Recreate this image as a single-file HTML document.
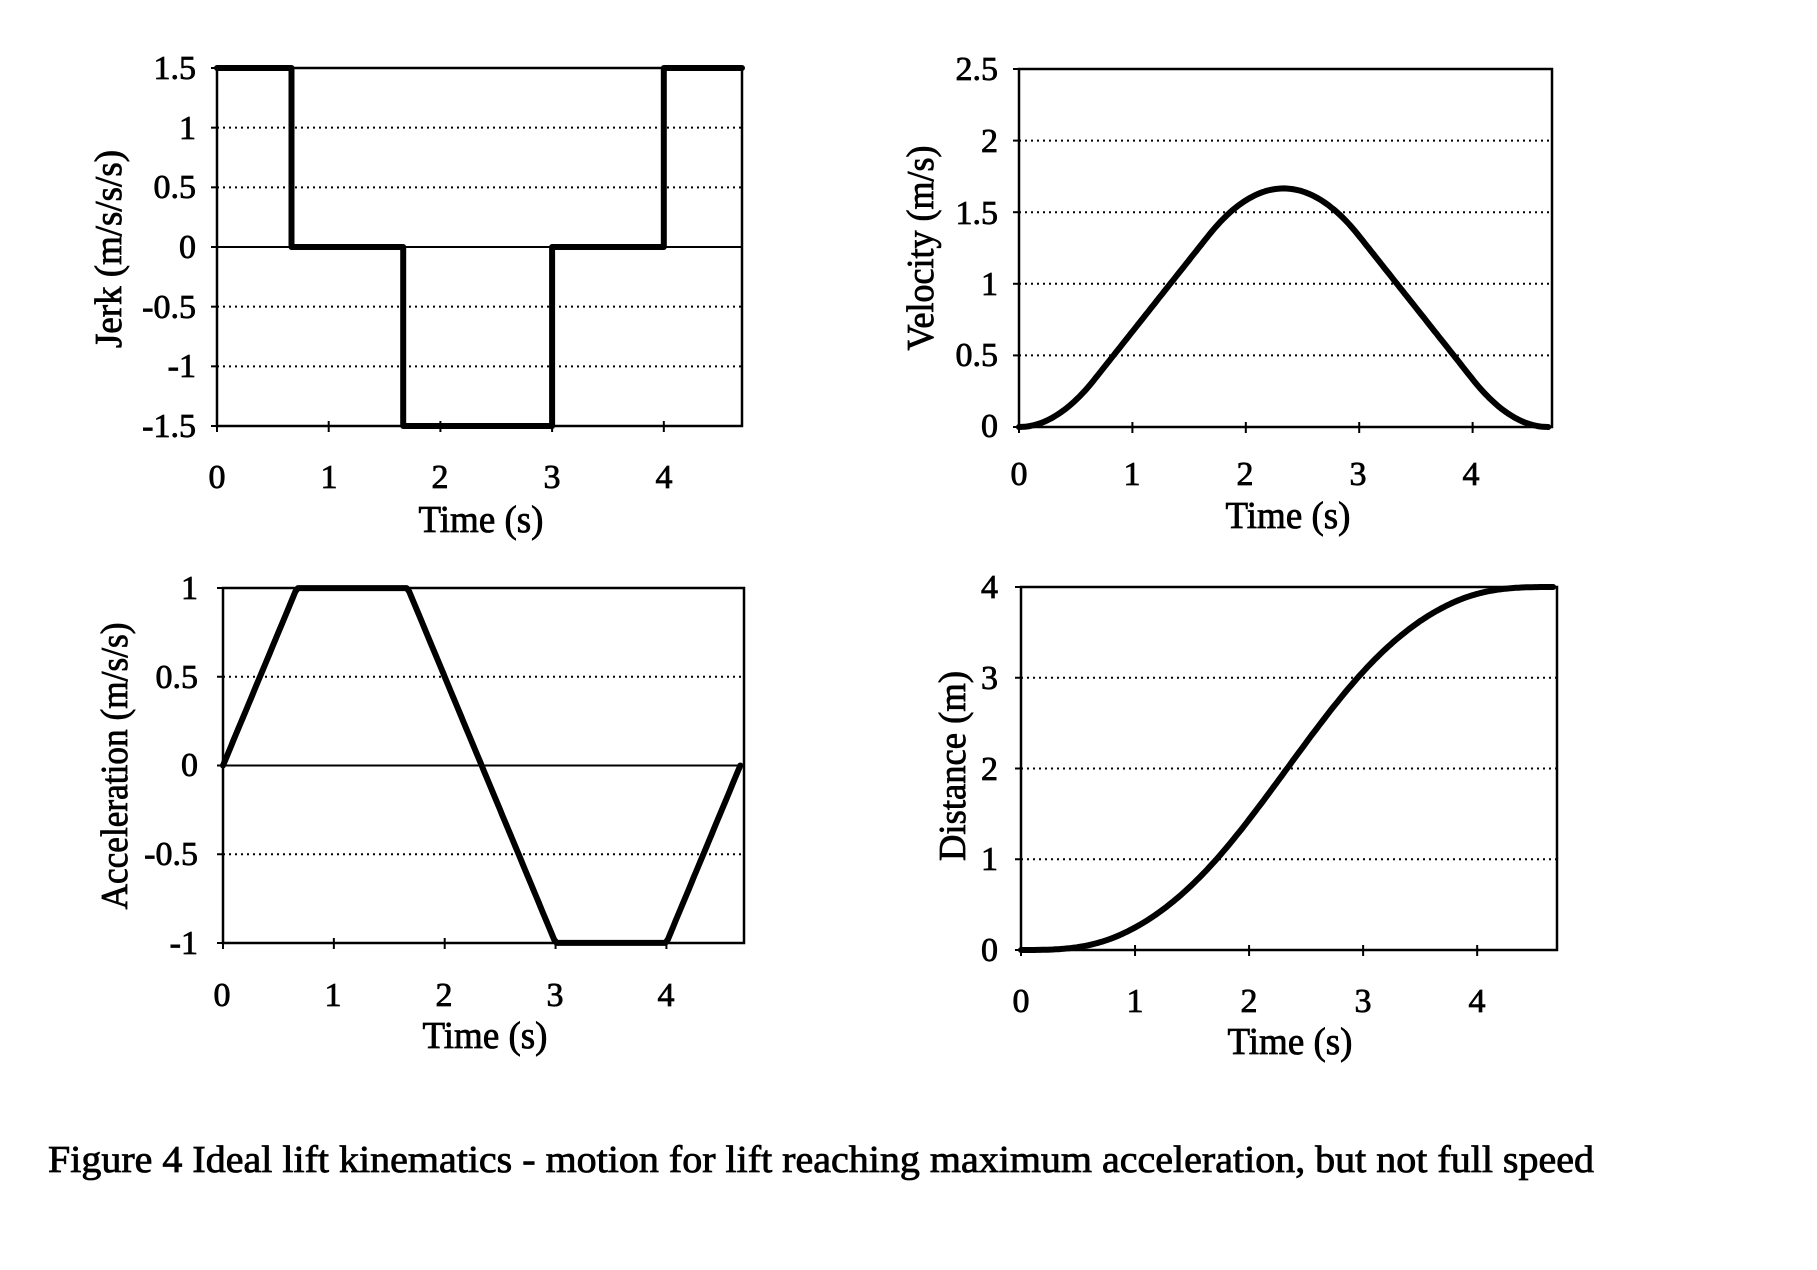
<!DOCTYPE html>
<html><head><meta charset="utf-8"><style>
html,body{margin:0;padding:0;background:#fff;width:1817px;height:1270px;overflow:hidden}
svg text{font-family:"Liberation Serif",serif;fill:#000;stroke:#000;stroke-width:0.8}
.t{font-size:34px}
.ti{font-size:38px}
</style></head><body>
<svg id="s" width="1817" height="1270" viewBox="0 0 1817 1270" xmlns="http://www.w3.org/2000/svg">
<g id="plots"></g>
<!-- Jerk -->
<g class="t" text-anchor="end">
<text x="196" y="79">1.5</text><text x="196" y="139">1</text><text x="196" y="198">0.5</text><text x="196" y="258">0</text><text x="196" y="318">-0.5</text><text x="196" y="377">-1</text><text x="196" y="437">-1.5</text>
</g>
<g class="t" text-anchor="middle">
<text x="217" y="488">0</text><text x="329" y="488">1</text><text x="440" y="488">2</text><text x="552" y="488">3</text><text x="664" y="488">4</text>
</g>
<text class="ti" x="481" y="532" text-anchor="middle" textLength="125" lengthAdjust="spacingAndGlyphs">Time (s)</text>
<text class="ti" transform="translate(121,249) rotate(-90)" text-anchor="middle" textLength="198" lengthAdjust="spacingAndGlyphs">Jerk (m/s/s/s)</text>
<!-- Velocity -->
<g class="t" text-anchor="end">
<text x="998" y="80">2.5</text><text x="998" y="152">2</text><text x="998" y="224">1.5</text><text x="998" y="295">1</text><text x="998" y="366">0.5</text><text x="998" y="437">0</text>
</g>
<g class="t" text-anchor="middle">
<text x="1019" y="485">0</text><text x="1132" y="485">1</text><text x="1245" y="485">2</text><text x="1358" y="485">3</text><text x="1471" y="485">4</text>
</g>
<text class="ti" x="1288" y="528" text-anchor="middle" textLength="125" lengthAdjust="spacingAndGlyphs">Time (s)</text>
<text class="ti" transform="translate(933,248) rotate(-90)" text-anchor="middle" textLength="205" lengthAdjust="spacingAndGlyphs">Velocity (m/s)</text>
<!-- Acceleration -->
<g class="t" text-anchor="end">
<text x="198" y="599">1</text><text x="198" y="688">0.5</text><text x="198" y="776">0</text><text x="198" y="865">-0.5</text><text x="198" y="954">-1</text>
</g>
<g class="t" text-anchor="middle">
<text x="222" y="1006">0</text><text x="333" y="1006">1</text><text x="444" y="1006">2</text><text x="555" y="1006">3</text><text x="666" y="1006">4</text>
</g>
<text class="ti" x="485" y="1048" text-anchor="middle" textLength="125" lengthAdjust="spacingAndGlyphs">Time (s)</text>
<text class="ti" transform="translate(127,766) rotate(-90)" text-anchor="middle" textLength="287" lengthAdjust="spacingAndGlyphs">Acceleration (m/s/s)</text>
<!-- Distance -->
<g class="t" text-anchor="end">
<text x="998" y="598">4</text><text x="998" y="689">3</text><text x="998" y="780">2</text><text x="998" y="870">1</text><text x="998" y="961">0</text>
</g>
<g class="t" text-anchor="middle">
<text x="1021" y="1012">0</text><text x="1135" y="1012">1</text><text x="1249" y="1012">2</text><text x="1363" y="1012">3</text><text x="1477" y="1012">4</text>
</g>
<text class="ti" x="1290" y="1054" text-anchor="middle" textLength="125" lengthAdjust="spacingAndGlyphs">Time (s)</text>
<text class="ti" transform="translate(965,766) rotate(-90)" text-anchor="middle" textLength="190" lengthAdjust="spacingAndGlyphs">Distance (m)</text>
<!-- caption -->
<text x="48" y="1172" style="font-size:38px" textLength="1546" lengthAdjust="spacingAndGlyphs">Figure 4 Ideal lift kinematics - motion for lift reaching maximum acceleration, but not full speed</text>
</svg>
<script>
(function(){
var NS="http://www.w3.org/2000/svg",g=document.getElementById("plots");
function el(n,a){var e=document.createElementNS(NS,n);for(var k in a)e.setAttribute(k,a[k]);g.appendChild(e);return e;}
var TJ=2/3, TE=14/3;
function jerk(t){if(t<TJ)return 1.5;if(t<TJ+1)return 0;if(t<3*TJ+1)return -1.5;if(t<3*TJ+2)return 0;return 1.5;}
var N=4000,dt=TE/N,A=[0],V=[0],D=[0],T=[0];
for(var i=1;i<=N;i++){var t=(i-0.5)*dt,j=jerk(t);var a0=A[i-1],a1=a0+j*dt;A.push(a1);var v1=V[i-1]+(a0+a1)/2*dt;V.push(v1);D.push(D[i-1]+(V[i-1]+v1)/2*dt);T.push(i*dt);}
var XM=4.7;
function chart(c){
 var sx=function(t){return c.L+t/XM*(c.R-c.L)},sy=function(v){return c.B-(v-c.y0)/(c.y1-c.y0)*(c.B-c.T)};
 c.grid.forEach(function(v){var y=sy(v);el("line",{x1:c.L,x2:c.R,y1:y,y2:y,stroke:"#000","stroke-width":2,"stroke-dasharray":v===0?"":"2 4"});});
 el("rect",{x:c.L,y:c.T,width:c.R-c.L,height:c.B-c.T,fill:"none",stroke:"#000","stroke-width":2.5});
 for(var k=0;k<=4;k++){var x=sx(k);el("line",{x1:x,x2:x,y1:c.B-5,y2:c.B+6,stroke:"#000","stroke-width":2});}
 c.yt.forEach(function(v){var y=sy(v);el("line",{x1:c.L-6,x2:c.L,y1:y,y2:y,stroke:"#000","stroke-width":2});});
 var p="";
 if(c.pts){c.pts.forEach(function(q,i){p+=(i?"L":"M")+sx(q[0]).toFixed(1)+" "+sy(q[1]).toFixed(1)+" ";});}
 else{for(var i=0;i<=N;i+=20){p+=(i?"L":"M")+sx(T[i]).toFixed(1)+" "+sy(c.arr[i]*c.k).toFixed(1)+" ";}}
 el("path",{d:p,fill:"none",stroke:"#000","stroke-width":6,"stroke-linejoin":"round","stroke-linecap":"round"});
}
chart({L:217,R:742,T:68,B:426,y0:-1.5,y1:1.5,grid:[1,0.5,0,-0.5,-1],yt:[1.5,1,0.5,0,-0.5,-1,-1.5],
 pts:[[0,1.5],[TJ,1.5],[TJ,0],[TJ+1,0],[TJ+1,-1.5],[3*TJ+1,-1.5],[3*TJ+1,0],[3*TJ+2,0],[3*TJ+2,1.5],[XM,1.5]]});
chart({L:1019,R:1552,T:69,B:427,y0:0,y1:2.5,grid:[2,1.5,1,0.5],yt:[2.5,2,1.5,1,0.5,0],arr:V,k:1});
chart({L:223,R:744,T:588,B:943,y0:-1,y1:1,grid:[0.5,0,-0.5],yt:[1,0.5,0,-0.5,-1],arr:A,k:1});
var dk=4/D[N];
chart({L:1021,R:1557,T:587,B:950,y0:0,y1:4,grid:[3,2,1],yt:[4,3,2,1,0],arr:D,k:dk});
})();
</script>
</body></html>
